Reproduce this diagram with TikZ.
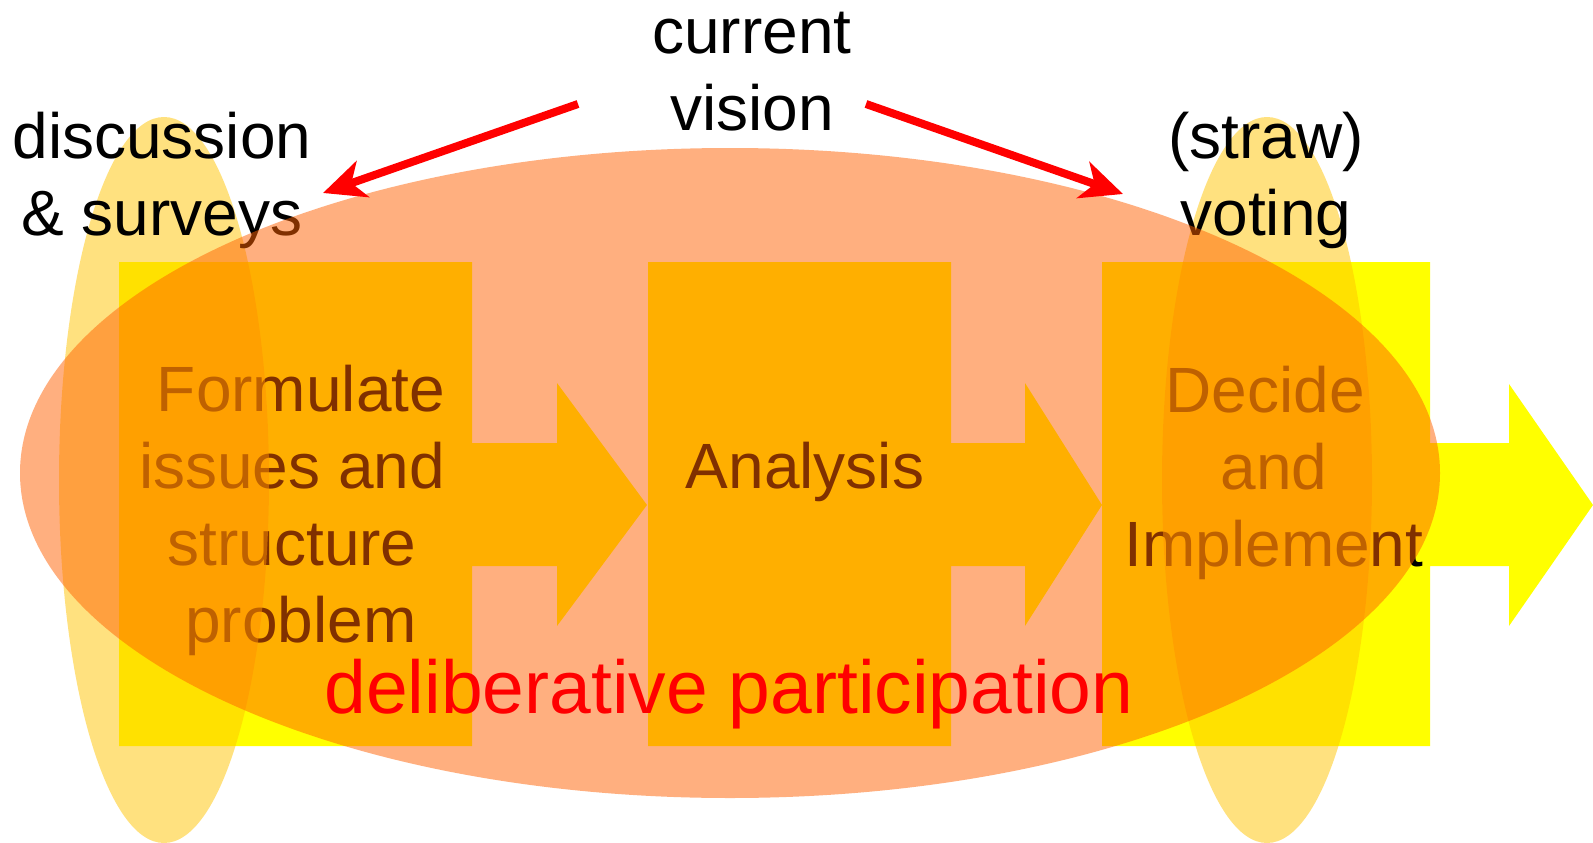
\documentclass[tikz,border=0pt]{standalone}
\usepackage{fontspec}
\setmainfont{Liberation Sans}
\usetikzlibrary{arrows.meta}
\definecolor{boxyellow}{RGB}{255,255,0}
\definecolor{bigorange}{RGB}{255,97,0}
\definecolor{tallgold}{RGB}{255,197,0}
\definecolor{vivred}{RGB}{255,0,0}
\newcommand{\trsp}{\hbox to 0.278em{}}
\begin{document}
\begin{tikzpicture}[x=1pt,y=-1pt,
  stagebox/.style={fill=boxyellow,draw=none},
  lbl/.style={font=\fontsize{64}{77}\selectfont,align=center,inner sep=0pt,anchor=base,text=black},
  redlbl/.style={font=\fontsize{75}{90}\selectfont,inner sep=0pt,anchor=base,text=vivred},
  tallell/.style={fill=tallgold,fill opacity=0.5,draw=none},
  bigell/.style={fill=bigorange,fill opacity=0.5,draw=none},
  redarrow/.style={draw=vivred,line width=8pt,-{Stealth[length=42pt,width=38pt,inset=12pt]}}]
\useasboundingbox (0,0) rectangle (1593,843);
\fill[white] (0,0) rectangle (1593,843);
% stage shapes
\fill[stagebox] (119,262) -- (472,262) -- (472,443) -- (557,443) -- (557,383) -- (647,505) -- (557,626) -- (557,566) -- (472,566) -- (472,746) -- (119,746) -- cycle;
\fill[stagebox] (648,262) -- (951,262) -- (951,443) -- (1025,443) -- (1025,383) -- (1102,505) -- (1025,626) -- (1025,566) -- (951,566) -- (951,746) -- (648,746) -- cycle;
\fill[stagebox] (1102,262) -- (1430,262) -- (1430,443) -- (1509,443) -- (1509,384) -- (1593,505) -- (1509,626) -- (1509,566) -- (1430,566) -- (1430,746) -- (1102,746) -- cycle;
% stage texts (base anchor = baseline of the last line)
\node[lbl] (formulate) at (301,642) {Formulate\\issues and\trsp\\structure\trsp\\problem};
\node[lbl] (analysis) at (805,488) {Analysis};
\node[lbl] (decide) at (1274,566) {Decide\trsp\\and\\Implement};
% tall ellipses
\fill[tallell] (164,480) ellipse [x radius=105pt,y radius=363pt];
\fill[tallell] (1267,480) ellipse [x radius=105pt,y radius=363pt];
% labels
\node[lbl] (discuss) at (162,235) {discussion\\\& surveys};
\node[lbl] (straw) at (1266,235) {(straw)\\voting};
% big ellipse
\fill[bigell] (730,473) ellipse [x radius=710pt,y radius=325pt];
% top text and arrows
\node[lbl] (vision) at (752,130) {current\\vision};
\node[redlbl] (delib) at (729,713) {deliberative participation};
\coordinate (cvL) at (578,104);
\coordinate (cvR) at (866,104);
\coordinate (dsTip) at (323,193);
\coordinate (svTip) at (1123,194);
\draw[redarrow] (cvL) -- (dsTip);
\draw[redarrow] (cvR) -- (svTip);
\end{tikzpicture}
\end{document}
